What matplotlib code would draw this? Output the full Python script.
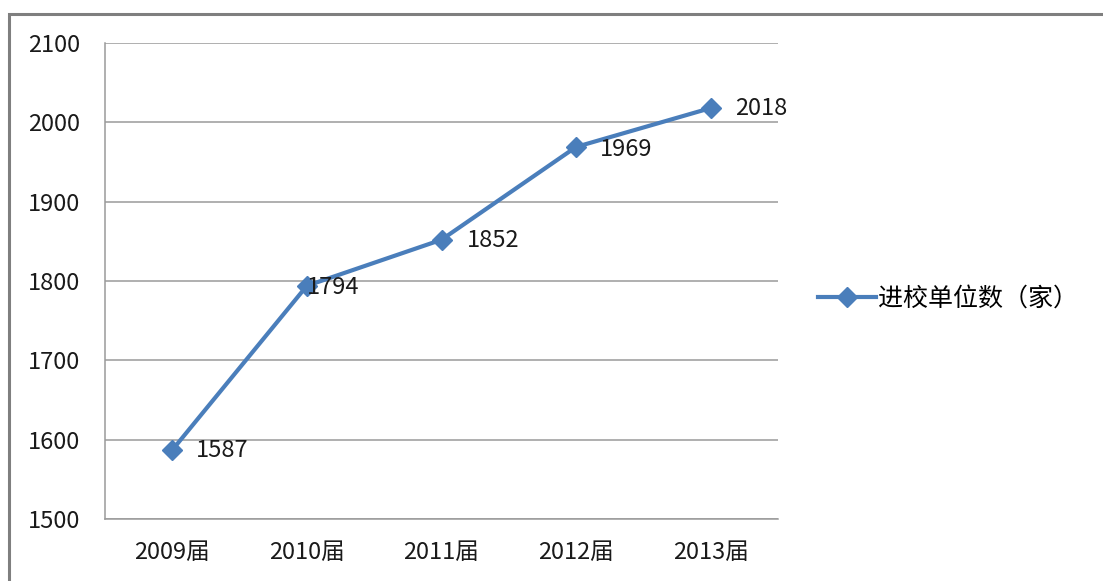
import matplotlib.pyplot as plt
from matplotlib.patches import Rectangle

plt.rcParams['font.family'] = ['Noto Sans CJK SC', 'DejaVu Sans']

categories = ['2009届', '2010届', '2011届', '2012届', '2013届']
values = [1587, 1794, 1852, 1969, 2018]
series_name = '进校单位数（家）'
yticks = [1500, 1600, 1700, 1800, 1900, 2000, 2100]

# offsets of the value labels, in pixels (style, not data)
label_dx = [24, 0, 25, 24, 24]
label_dy = [-1, -2, -1, -3, 0]

fig = plt.figure(figsize=(11.03, 5.81), dpi=100)
ax = fig.add_axes([105 / 1103, 62 / 581, 673 / 1103, 476 / 581])

# outer chart frame
fig.patches.append(Rectangle((9 / 1103, -0.05), 1.2, (581 - 14) / 581 + 0.05,
                             transform=fig.transFigure, fill=False,
                             edgecolor='#7f7f7f', linewidth=2.2))

x = range(len(categories))
line, = ax.plot(x, values, color='#4a7ebb', linewidth=3, marker='D',
                markersize=10, label=series_name, zorder=3)

for i, v in enumerate(values):
    ax.annotate(str(v), (i, v), xytext=(label_dx[i] * 0.72, label_dy[i] * 0.72),
                textcoords='offset points', ha='left', va='center',
                fontsize=17, color='#1a1a1a')

ax.set_xlim(-0.5, len(categories) - 0.5)
ax.set_ylim(1500, 2100)
ax.set_yticks(yticks)
ax.set_xticks(list(x))
ax.set_xticklabels(categories)
ax.tick_params(axis='both', length=0, labelsize=17, colors='#1a1a1a')
ax.tick_params(axis='y', pad=18)
ax.tick_params(axis='x', pad=16)
ax.grid(axis='y', color='#9a9a9a', linewidth=1.1)
ax.set_axisbelow(True)
for s in ['top', 'right']:
    ax.spines[s].set_visible(False)
for s in ['left', 'bottom']:
    ax.spines[s].set_color('#9a9a9a')
    ax.spines[s].set_linewidth(1.1)

fig.legend(handles=[line], loc='center left', bbox_to_anchor=(808 / 1103, 1 - 299 / 581),
           frameon=False, fontsize=18, handlelength=2.3, handletextpad=0.1,
           borderaxespad=0)

fig.savefig('out.png', dpi=100)
